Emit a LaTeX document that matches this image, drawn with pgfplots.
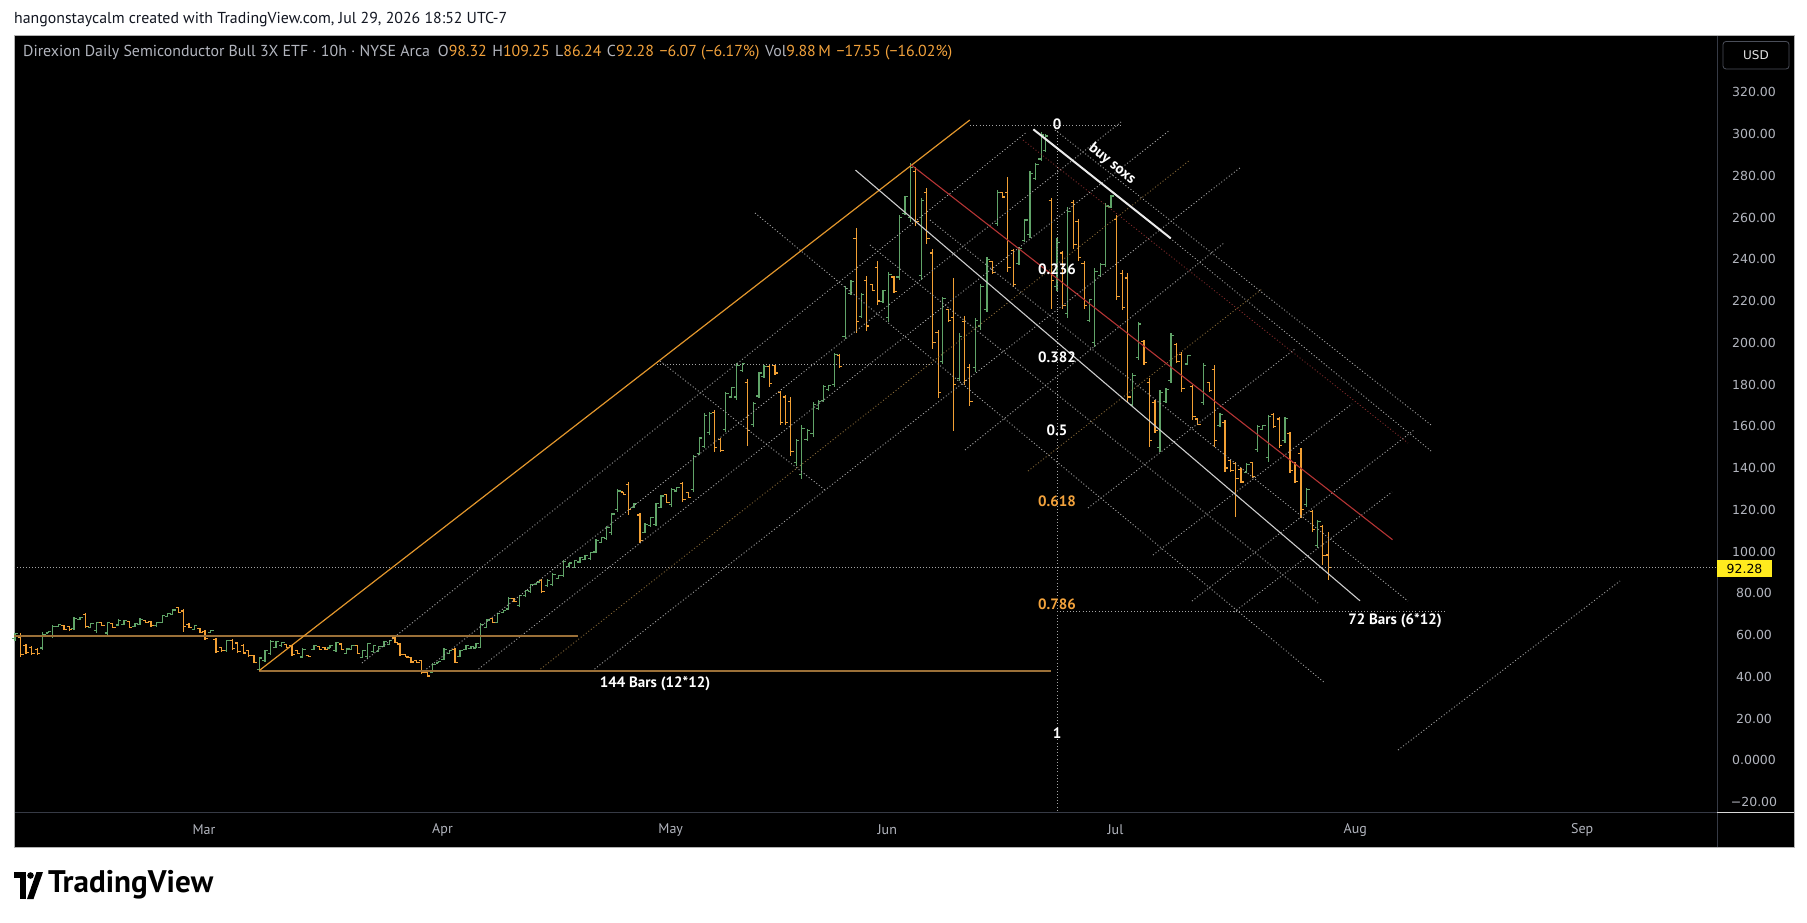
\documentclass[border=0pt]{standalone}
\usepackage{graphicx}
\usepackage{pgfplots}
\pgfplotsset{compat=1.18}
\usepackage{pgfplotstable}
\usepackage{fontspec}
\setmainfont{PT Sans}
\newfontfamily\dv{DejaVu Sans}
\definecolor{bup}{RGB}{96,164,104}
\definecolor{bdn}{RGB}{242,160,52}
\definecolor{tvgray}{RGB}{178,181,190}
\definecolor{tvor}{RGB}{242,162,60}
\definecolor{orln}{RGB}{226,150,44}
\definecolor{orh}{RGB}{155,112,56}
\definecolor{redln}{RGB}{180,52,52}
\definecolor{dred}{RGB}{125,42,42}
\definecolor{dotg}{RGB}{165,165,165}
\definecolor{dotb}{RGB}{135,105,55}
\definecolor{sep}{RGB}{54,58,69}
\definecolor{tvyel}{RGB}{255,235,30}
\pgfdeclareplotmark{otick}{\pgfpathmoveto{\pgfqpoint{-2.8pt}{0pt}}\pgfpathlineto{\pgfqpoint{0pt}{0pt}}\pgfusepathqstroke}
\pgfdeclareplotmark{ctick}{\pgfpathmoveto{\pgfqpoint{0pt}{0pt}}\pgfpathlineto{\pgfqpoint{2.8pt}{0pt}}\pgfusepathqstroke}
\tikzset{dotl/.style={draw=dotg, line width=0.9pt, dash pattern=on 1pt off 2.2pt},
  lbl/.style={font=\bfseries\fontsize{15}{17}\selectfont, inner sep=1pt}}
\pgfplotstableread{
x o h l c
15.0 58.2 61.15 57.3 60.6
20.7 59.0 60.8 49.3 50.5
26.0 54.8 55.6 50.9 51.6
31.7 54.0 54.9 50.5 51.2
37.3 53.0 53.6 50.5 51.0
42.7 53.8 61.6 52.9 60.2
48.3 61.0 62.1 60.8 61.9
52.7 59.5 64.8 58.4 64.0
58.3 64.2 65.1 64.0 64.9
64.0 64.5 64.8 62.4 62.8
69.3 64.0 64.3 62.1 62.5
74.0 63.0 68.5 62.4 67.8
80.0 67.4 68.5 67.2 68.3
85.7 69.8 70.7 63.2 64.0
90.7 63.6 65.9 63.2 65.5
96.7 62.0 66.4 61.1 65.8
101.7 65.9 66.1 64.3 64.6
107.3 61.0 66.4 60.0 65.8
112.7 65.5 65.9 63.2 63.6
118.3 64.8 67.5 64.3 67.0
124.0 65.2 67.2 64.8 66.8
129.3 66.5 66.9 63.2 63.8
135.0 64.3 65.9 64.0 65.6
140.0 65.2 68.0 64.8 67.6
145.7 67.0 67.2 65.6 65.9
151.0 66.5 66.9 64.0 64.4
156.7 64.4 66.4 64.0 66.0
162.3 66.0 69.6 65.6 69.2
167.7 69.0 70.4 68.8 70.2
172.7 70.0 72.3 69.6 72.0
178.3 73.0 73.3 70.4 70.8
183.3 71.5 72.3 61.6 64.0
189.0 65.2 65.6 63.2 63.5
194.3 62.8 64.8 62.4 64.5
200.0 63.0 63.2 60.8 61.2
205.0 61.8 62.4 57.6 58.4
210.7 61.3 62.4 61.1 62.2
216.0 58.0 58.4 51.3 52.2
221.7 54.0 54.4 52.0 52.4
226.7 52.6 57.6 52.0 57.2
232.3 57.4 57.9 52.9 53.4
237.7 56.2 56.8 51.3 52.0
243.3 55.2 55.7 50.9 51.4
248.7 52.5 52.9 49.6 50.0
254.0 50.2 50.5 46.5 47.0
259.3 43.5 49.6 42.5 49.0
265.0 48.0 52.9 47.3 52.4
270.7 51.2 57.6 50.5 57.0
276.0 54.0 57.3 53.6 57.0
281.7 54.8 56.8 54.4 56.5
286.7 55.4 55.7 53.6 54.0
292.0 54.8 55.2 50.0 50.6
297.3 52.6 52.9 50.9 51.2
302.7 49.5 53.6 48.9 53.2
308.3 50.4 50.5 49.7 49.8
314.0 53.2 55.2 52.9 55.0
319.3 54.6 54.8 52.9 53.2
325.0 54.2 54.4 52.9 53.2
330.0 53.8 55.2 53.6 55.0
336.0 52.5 56.8 52.0 56.4
341.3 55.7 56.0 52.9 53.2
346.7 51.2 53.6 50.9 53.3
351.7 53.2 55.2 52.9 55.0
357.3 54.9 55.2 50.9 51.3
362.7 49.3 52.9 48.9 52.5
367.7 49.8 56.4 48.9 56.0
373.3 52.0 55.2 51.6 54.9
378.7 52.3 54.8 52.0 54.5
384.0 54.7 57.3 54.4 57.0
389.3 55.5 57.6 55.2 57.4
395.0 58.6 58.9 56.0 56.3
400.0 55.7 56.0 50.0 50.6
405.7 50.7 50.9 49.3 49.5
411.0 49.3 49.6 46.8 47.1
416.7 47.9 48.1 46.5 46.7
421.7 47.6 48.1 41.4 42.2
427.3 42.2 42.5 40.1 40.4
432.7 42.0 46.5 41.7 46.1
438.3 46.6 47.3 46.5 47.2
444.0 48.5 53.6 48.1 53.2
449.3 51.1 52.9 50.9 52.7
455.0 53.2 53.6 46.5 47.0
460.0 49.9 52.9 49.6 52.6
466.0 53.0 55.2 52.8 55.0
471.0 53.4 54.8 53.2 54.6
476.0 53.8 56.0 53.6 55.8
480.7 54.2 65.6 53.6 65.0
486.7 63.6 67.5 63.2 67.2
492.3 67.8 68.0 65.9 66.2
497.3 66.0 70.7 65.6 70.3
503.3 70.6 72.0 70.4 71.8
508.3 72.5 78.1 72.0 77.6
514.0 77.4 77.6 76.0 76.2
519.3 74.2 79.2 73.6 78.8
525.7 78.8 81.6 78.4 81.3
530.7 80.7 84.5 80.3 84.1
536.7 84.2 85.6 84.0 85.4
541.7 86.2 86.7 80.0 80.8
547.3 83.6 86.7 83.2 86.3
552.7 84.0 89.6 83.5 89.2
558.3 87.0 88.8 86.7 88.6
563.3 88.6 96.0 88.0 95.4
569.0 93.0 94.7 92.8 94.5
574.3 92.5 96.0 92.0 95.6
580.0 95.0 97.6 94.7 97.3
585.0 96.3 98.4 96.0 98.1
590.7 96.5 99.9 96.0 99.5
596.0 99.8 105.8 99.1 105.2
601.7 104.3 107.1 103.9 106.8
606.7 106.2 112.2 105.5 111.6
611.7 109.0 118.6 107.9 118.0
617.7 120.0 129.8 119.1 129.0
623.3 128.5 128.7 127.1 127.3
628.3 132.0 133.5 117.5 120.0
634.0 121.0 123.1 120.7 122.8
640.0 117.5 118.3 103.9 105.5
645.0 109.2 113.5 108.7 113.0
650.7 112.4 116.7 111.9 116.2
656.0 113.0 123.4 112.2 122.8
661.0 121.3 127.1 120.7 126.6
666.7 127.2 127.6 123.1 123.6
671.7 122.4 130.3 121.5 129.8
676.7 129.0 131.1 128.7 130.8
682.7 132.5 133.5 123.9 125.0
688.3 128.3 128.7 125.5 125.8
693.3 129.5 146.2 128.7 145.5
699.3 147.0 155.0 146.2 154.4
704.3 150.5 166.2 149.4 165.0
709.3 157.0 167.0 155.8 166.2
714.3 166.5 167.8 147.8 150.0
720.7 153.5 154.2 147.8 148.5
725.7 158.5 176.6 157.4 175.5
731.7 174.0 179.0 173.4 178.5
736.7 174.0 190.1 172.6 189.0
742.3 186.8 190.5 186.2 190.0
747.3 181.0 182.5 150.6 158.0
753.3 161.0 171.8 159.8 171.0
759.0 174.5 186.2 173.4 185.5
764.0 183.8 189.3 183.0 188.8
769.3 188.5 189.3 179.0 180.5
775.0 189.0 189.3 184.6 185.5
780.4 176.0 177.0 160.5 162.0
785.5 174.0 175.1 160.5 162.0
790.7 172.0 174.2 145.8 148.0
796.6 142.5 154.0 141.2 153.0
801.7 137.0 160.5 134.8 159.0
807.2 153.8 158.6 153.1 158.0
813.1 156.5 171.5 155.0 170.5
818.3 168.3 172.4 167.8 172.0
823.4 172.5 179.7 171.5 179.0
828.6 177.4 179.7 177.0 179.4
834.8 180.0 195.3 178.8 194.5
839.6 194.0 194.4 188.0 188.8
845.1 203.0 227.4 201.7 226.0
851.0 223.5 230.1 222.8 229.5
856.1 250.0 254.9 204.5 210.0
861.3 212.5 223.7 211.8 223.0
866.5 230.0 232.0 205.4 208.0
872.3 228.0 228.3 224.6 225.0
877.5 236.0 239.3 218.2 220.0
883.0 219.6 225.5 219.1 225.0
888.9 212.0 233.8 210.0 232.5
894.0 231.5 232.0 223.7 224.5
899.2 231.5 261.3 230.1 260.0
905.0 262.0 270.4 261.3 270.0
910.6 260.0 286.0 257.6 284.0
915.7 282.0 284.2 255.8 258.0
921.6 232.0 269.5 230.1 268.0
926.7 272.0 274.1 247.5 250.0
932.9 243.0 244.8 197.1 200.0
938.1 205.0 206.3 173.3 176.0
942.9 191.0 221.9 189.8 221.0
948.4 216.0 216.4 210.0 210.5
953.6 212.0 231.0 157.7 180.0
959.4 183.0 204.5 181.5 203.0
964.6 210.0 212.7 179.7 182.0
969.8 188.0 189.8 169.6 172.0
975.6 188.0 211.8 186.1 210.5
980.8 208.0 228.3 206.3 227.0
987.0 216.0 241.1 214.5 240.0
992.2 239.0 239.3 232.9 233.5
997.3 257.0 273.2 255.8 272.0
1002.5 272.0 272.3 269.5 269.8
1007.7 272.0 279.6 233.8 236.0
1013.5 244.0 244.8 226.5 228.0
1019.0 238.0 245.7 237.4 245.0
1024.9 249.0 259.4 248.4 258.8
1030.0 252.0 282.3 250.3 281.0
1035.9 278.5 286.0 277.8 285.5
1041.1 288.0 300.7 286.9 299.5
1045.5 292.0 299.8 291.5 299.0
1051.4 268.0 269.5 216.4 230.0
1057.0 227.0 250.0 225.0 248.0
1062.8 243.0 243.9 216.4 218.0
1067.9 214.0 264.9 211.8 263.0
1073.8 267.0 268.6 244.8 247.0
1078.2 258.0 259.4 239.3 241.0
1084.1 238.0 239.3 216.4 218.0
1089.3 210.5 221.0 210.0 220.5
1094.8 200.0 235.6 198.0 234.0
1100.7 232.0 238.0 231.6 237.5
1105.7 237.5 266.8 236.4 265.5
1111.0 265.0 270.8 264.4 270.3
1116.7 259.0 261.2 220.5 222.0
1122.3 233.0 234.8 215.7 217.0
1127.7 231.0 233.2 171.0 174.0
1132.7 170.5 185.4 169.4 184.5
1138.3 193.0 210.1 191.7 209.0
1144.0 200.5 201.3 189.4 190.5
1149.3 181.0 182.9 150.2 153.0
1155.0 171.5 172.6 156.6 158.0
1160.0 150.0 177.4 147.8 176.0
1166.0 171.8 178.2 171.0 177.8
1171.0 182.0 204.5 180.6 203.5
1176.7 199.0 199.7 190.1 191.0
1181.7 194.5 195.7 176.6 178.0
1187.7 189.8 194.1 189.4 193.8
1192.7 179.0 179.8 163.0 164.5
1197.7 163.5 163.8 160.6 161.0
1203.3 171.5 190.1 170.2 189.0
1209.3 181.0 181.4 176.6 177.0
1214.3 187.0 189.3 150.2 153.0
1220.0 160.3 166.2 159.8 165.8
1225.0 162.0 163.0 138.2 140.0
1230.7 143.4 143.8 138.2 138.8
1235.7 142.0 143.0 116.7 135.0
1241.0 139.5 139.9 132.7 133.3
1246.7 137.8 142.2 137.4 141.8
1252.3 142.5 143.0 135.1 136.0
1257.3 148.8 160.6 147.8 159.8
1262.7 158.5 160.6 158.2 160.3
1268.3 145.0 165.4 143.0 164.5
1273.3 165.8 166.2 159.0 159.8
1279.3 163.5 164.6 149.4 151.0
1285.0 153.0 164.6 151.8 163.8
1290.0 156.5 157.4 137.4 139.0
1295.0 142.5 143.0 132.7 133.5
1301.0 147.0 149.4 115.9 120.0
1306.7 122.5 130.3 121.5 129.5
1312.3 119.3 119.9 109.5 110.5
1317.7 103.0 115.1 101.5 114.5
1322.7 112.0 112.7 93.6 98.3
1328.3 98.32 109.25 86.24 92.28
}\bars
\begin{document}
\begin{tikzpicture}[x=1pt,y=1pt]
\fill[white] (0,0) rectangle (1807,922);
\fill[black] (14,75) rectangle (1794,887);
\draw[sep, line width=0.8pt] (1717,75)--(1717,887);
\draw[sep, line width=0.8pt] (14,110)--(1794,110);
\draw[gray!60, line width=0.6pt] (14,75) rectangle (1794,887);
\node[anchor=west, inner sep=0pt, text={rgb,255:red,19;green,23;blue,34}] at (14,902.5)
  {\resizebox{493pt}{!}{\fontsize{14}{16}\selectfont hangonstaycalm created with TradingView.com, Jul 29, 2026 18:52 UTC-7}};
\node[anchor=west, inner sep=0pt] at (23,869)
  {\resizebox{929pt}{!}{\fontsize{14}{16}\selectfont\color{tvgray}Direxion Daily Semiconductor Bull 3X ETF · 10h · NYSE Arca\hspace{0.5em}O\textcolor{tvor}{98.32}\hspace{0.35em}H\textcolor{tvor}{109.25}\hspace{0.35em}L\textcolor{tvor}{86.24}\hspace{0.35em}C\textcolor{tvor}{92.28}\hspace{0.35em}\textcolor{tvor}{−6.07 (−6.17\%)}\hspace{0.35em}Vol\textcolor{tvor}{9.88\,M}\hspace{0.35em}\textcolor{tvor}{−17.55 (−16.02\%)}}};
% price axis with bars
\begin{axis}[at={(14pt,110pt)}, anchor=south west, scale only axis,
  width=1703pt, height=777pt, xmin=14, xmax=1717, ymin=-24.75, ymax=347.4,
  axis line style={draw=none}, major tick length=0pt, tick style={draw=none},
  ytick={-20,0,20,40,60,80,100,120,140,160,180,200,220,240,260,280,300,320},
  yticklabels={−20.00,0.0000,20.00,40.00,60.00,80.00,100.00,120.00,140.00,160.00,180.00,200.00,220.00,240.00,260.00,280.00,300.00,320.00},
  yticklabel pos=right,
  yticklabel style={anchor=center, xshift=37pt, font=\dv\fontsize{12.5}{14}\selectfont, text=tvgray},
  xtick={204,442.5,670.7,887.3,1115.5,1355.2,1582.2},
  xticklabels={Mar,Apr,May,Jun,Jul,Aug,Sep},
  xticklabel style={anchor=center, yshift=-18pt, font=\fontsize{14}{16}\selectfont, text=tvgray},
  clip=true]
\addplot[draw=none, mark=none, forget plot,
  restrict expr to domain={\thisrow{c}-\thisrow{o}}{0:1000},
  error bars/.cd, y dir=both, y explicit, error mark=none,
  error bar style={draw=bup, solid, line width=1.1pt}]
  table[x=x, y expr={(\thisrow{h}+\thisrow{l})/2}, y error expr={(\thisrow{h}-\thisrow{l})/2}] {\bars};
\addplot[draw=none, mark=none, forget plot,
  restrict expr to domain={\thisrow{c}-\thisrow{o}}{-1000:-0.0001},
  error bars/.cd, y dir=both, y explicit, error mark=none,
  error bar style={draw=bdn, solid, line width=1.1pt}]
  table[x=x, y expr={(\thisrow{h}+\thisrow{l})/2}, y error expr={(\thisrow{h}-\thisrow{l})/2}] {\bars};
\addplot[only marks, mark=otick, mark options={draw=bup, solid, line width=1.1pt}, forget plot,
  restrict expr to domain={\thisrow{c}-\thisrow{o}}{0:1000}] table[x=x, y=o] {\bars};
\addplot[only marks, mark=ctick, mark options={draw=bup, solid, line width=1.1pt}, forget plot,
  restrict expr to domain={\thisrow{c}-\thisrow{o}}{0:1000}] table[x=x, y=c] {\bars};
\addplot[only marks, mark=otick, mark options={draw=bdn, solid, line width=1.1pt}, forget plot,
  restrict expr to domain={\thisrow{c}-\thisrow{o}}{-1000:-0.0001}] table[x=x, y=o] {\bars};
\addplot[only marks, mark=ctick, mark options={draw=bdn, solid, line width=1.1pt}, forget plot,
  restrict expr to domain={\thisrow{c}-\thisrow{o}}{-1000:-0.0001}] table[x=x, y=c] {\bars};
\end{axis}
% drawings overlay (chart pixel coordinates)
\begin{axis}[at={(14pt,110pt)}, anchor=south west, scale only axis,
  width=1703pt, height=777pt, xmin=14, xmax=1717, ymin=35, ymax=812,
  y dir=reverse, hide axis, clip=true]
% current price line
\addplot[draw=gray!70, line width=0.7pt, dash pattern=on 1pt off 2pt, mark=none] coordinates {(14,567.7) (1717,567.7)};
% left lattice rising
\addplot[dotl, mark=none] coordinates {(362,663) (1027,132)};
\addplot[dotl, mark=none] coordinates {(424,671) (1121,122)};
\addplot[dotl, mark=none] coordinates {(476,671) (1170,130)};
\addplot[dotl, draw=dotb, mark=none] coordinates {(538,671) (1190,160)};
\addplot[dotl, mark=none] coordinates {(592,671) (1241,167)};
% right lattice rising
\addplot[dotl, mark=none] coordinates {(965,450) (1224,243)};
\addplot[dotl, draw=dotb, mark=none] coordinates {(1028,471) (1262,289)};
\addplot[dotl, mark=none] coordinates {(1088,508) (1295,349)};
\addplot[dotl, mark=none] coordinates {(1153,555) (1352,404)};
\addplot[dotl, mark=none] coordinates {(1192,601) (1414,430)};
\addplot[dotl, mark=none] coordinates {(1234,612) (1392,492)};
\addplot[dotl, mark=none] coordinates {(1398,750) (1620,581)};
% falling
\addplot[dotl, mark=none] coordinates {(970,125) (1121,125)};
\addplot[dotl, mark=none] coordinates {(1055,130) (1431,425)};
\addplot[dotl, mark=none] coordinates {(1170,238) (1431,451)};
\addplot[dotl, draw=dred, mark=none] coordinates {(1023,140) (1408,443)};
\addplot[dotl, mark=none] coordinates {(660,361) (825,490)};
\addplot[dotl, mark=none] coordinates {(657,364) (934,364)};
\addplot[dotl, mark=none] coordinates {(755,213) (1325,683)};
\addplot[dotl, mark=none] coordinates {(870,245) (1318,603)};
\addplot[dotl, mark=none] coordinates {(930,220) (1408,601)};
\addplot[dotl, mark=none] coordinates {(1057,611) (1446,611)};
\addplot[dotl, mark=none] coordinates {(1057,125) (1057,812)};
% solid lines
\addplot[draw=orh, line width=2pt, mark=none] coordinates {(14,636) (578.3,636)};
\addplot[draw=orh, line width=2pt, mark=none] coordinates {(259.3,670.5) (1050.7,670.5)};
\addplot[draw=orln, line width=1.2pt, mark=none] coordinates {(259.3,670.5) (969.8,120)};
\addplot[draw=redln, line width=1.1pt, mark=none] coordinates {(911.2,164.9) (1392.5,539.7)};
\addplot[draw=white!80!black, line width=1.1pt, mark=none] coordinates {(855.5,170.1) (1360,600.8)};
\addplot[draw=white!92!black, line width=2pt, mark=none] coordinates {(1033.3,129.3) (1170.7,238.3)};
% labels
\node[lbl, text=white, rotate=-38.5] at (axis cs:1112,164) {buy soxs};
\node[lbl, text=white] at (axis cs:1057,124.5) {0};
\node[lbl, text=white] at (axis cs:1057,269.7) {0.236};
\node[lbl, text=white] at (axis cs:1057,357.2) {0.382};
\node[lbl, text=white] at (axis cs:1057,429.8) {0.5};
\node[lbl, text=tvor] at (axis cs:1057,501.3) {0.618};
\node[lbl, text=tvor] at (axis cs:1057,603.9) {0.786};
\node[lbl, text=white] at (axis cs:1057,733) {1};
\node[lbl, text=white] at (axis cs:655,683.3) {144 Bars (12*12)};
\node[lbl, text=white] at (axis cs:1395,621) {72 Bars (6*12)};
\end{axis}
% price axis widgets
\draw[rounded corners=3pt, draw={rgb,255:red,74;green,78;blue,89}, fill=black, line width=0.8pt] (1723,853) rectangle (1789,880.5);
\node[text=white!90!black, font=\dv\fontsize{12}{14}\selectfont] at (1756,866.7) {USD};
\fill[tvyel] (1717,345) rectangle (1772,362);
\node[text=black, font=\dv\fontsize{12.5}{14}\selectfont] at (1744.5,353.5) {92.28};
\draw[white!85!black, line width=1pt] (1717,110) -- (1794,110);
% TradingView logo
\fill[black] (14,44) rectangle (26,50);
\fill[black] (20,23) rectangle (26,50);
\fill[black] (30.5,46.5) circle (3.3);
\fill[black] (27,23) -- (33.5,23) -- (43,50) -- (36.5,50) -- cycle;
\node[anchor=west, inner sep=0pt] at (48,37)
  {\resizebox{165pt}{!}{\fontsize{24}{26}\selectfont\bfseries TradingView}};
\end{tikzpicture}
\end{document}
